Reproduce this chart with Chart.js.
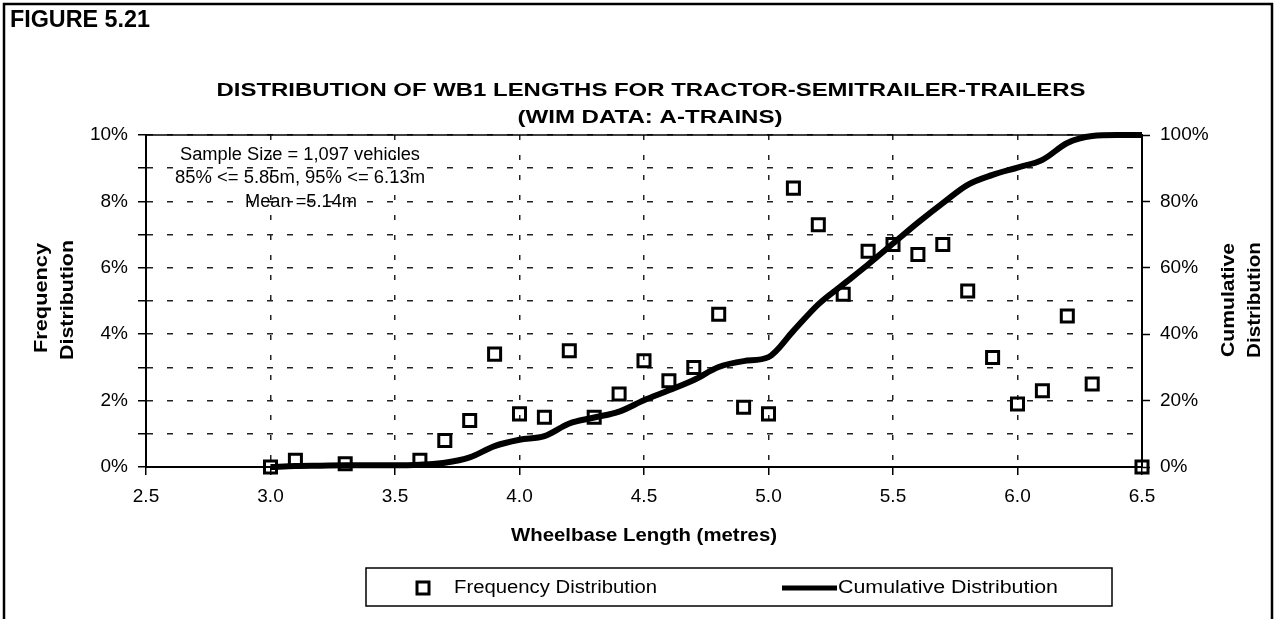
<!DOCTYPE html>
<html>
<head>
<meta charset="utf-8">
<script src="https://cdn.jsdelivr.net/npm/chart.js@4"></script>
<style>
  body { margin: 0; background: #fff; }
  canvas { display: block; }
</style>
</head>
<body>
<canvas id="wb1" width="1275" height="619"></canvas>
<script>
// wheelbase (m) of each frequency point
var freqX = [3.0, 3.1, 3.3, 3.6, 3.7, 3.8, 3.9, 4.0, 4.1, 4.2, 4.3, 4.4, 4.5, 4.6, 4.7, 4.8,
  4.9, 5.0, 5.1, 5.2, 5.3, 5.4, 5.5, 5.6, 5.7, 5.8, 5.9, 6.0, 6.1, 6.2, 6.3, 6.5];
// frequency distribution (%)
var freqPct = [0, 0.2, 0.1, 0.2, 0.8, 1.4, 3.4, 1.6, 1.5, 3.5, 1.5, 2.2, 3.2, 2.6, 3.0, 4.6,
  1.8, 1.6, 8.4, 7.3, 5.2, 6.5, 6.7, 6.4, 6.7, 5.3, 3.3, 1.9, 2.3, 4.55, 2.5, 0];
// cumulative curve, read at every 0.1 m
var cumX = [3.0, 3.1, 3.2, 3.3, 3.4, 3.5, 3.6, 3.7, 3.8, 3.9, 4.0, 4.1, 4.2, 4.3, 4.4, 4.5,
  4.6, 4.7, 4.8, 4.9, 5.0, 5.1, 5.2, 5.3, 5.4, 5.5, 5.6, 5.7, 5.8, 5.9, 6.0, 6.1, 6.2, 6.3, 6.4, 6.5];
var cumPct = [0, 0.3, 0.4, 0.5, 0.5, 0.5, 0.7, 1.3, 2.9, 6.3, 8.2, 9.3, 13.1, 14.9, 16.7, 20.1,
  23.1, 26.2, 30.1, 31.9, 33.1, 41.0, 49.0, 55.0, 61.0, 67.3, 73.6, 79.5, 85.0, 88.0, 90.2, 92.5, 97.6, 99.7, 100, 100];

var leftTicks = [0, 2, 4, 6, 8, 10];
var rightTicks = [0, 20, 40, 60, 80, 100];
var xTicks = [2.5, 3.0, 3.5, 4.0, 4.5, 5.0, 5.5, 6.0, 6.5];

var notes = ["Sample Size = 1,097 vehicles", "85% <= 5.85m, 95% <= 6.13m", "Mean =5.14m"];

var FONT = "'Liberation Sans', Arial, sans-serif";

function pts(xs, ys) {
  return xs.map(function (x, i) { return { x: x, y: ys[i] }; });
}

// draw text centred at x,y, squeezed/stretched to width w
function fitText(ctx, txt, x, y, w, rot) {
  ctx.save();
  ctx.translate(x, y);
  if (rot) ctx.rotate(-Math.PI / 2);
  if (w) ctx.scale(w / ctx.measureText(txt).width, 1);
  ctx.fillText(txt, 0, 0);
  ctx.restore();
}

var decor = {
  id: 'decor',
  afterDraw: function (chart) {
    var ctx = chart.ctx, a = chart.chartArea;
    ctx.save();
    ctx.fillStyle = '#000';
    ctx.strokeStyle = '#000';

    // frame
    ctx.lineWidth = 2.5;
    ctx.beginPath();
    ctx.moveTo(4, 625); ctx.lineTo(4, 4); ctx.lineTo(1272, 4); ctx.lineTo(1272, 625);
    ctx.stroke();

    // top edge of plot
    ctx.lineWidth = 1.5;
    ctx.beginPath();
    ctx.moveTo(a.left, a.top); ctx.lineTo(a.right, a.top);
    ctx.stroke();

    ctx.textAlign = 'left';
    ctx.textBaseline = 'middle';
    ctx.font = 'bold 23px ' + FONT;
    ctx.save(); ctx.translate(10, 21);
    ctx.scale(140 / ctx.measureText('FIGURE 5.21').width, 1);
    ctx.fillText('FIGURE 5.21', 0, 0);
    ctx.restore();

    ctx.textAlign = 'center';
    ctx.font = 'bold 19px ' + FONT;
    fitText(ctx, 'DISTRIBUTION OF WB1 LENGTHS FOR TRACTOR-SEMITRAILER-TRAILERS', 651, 91, 869);
    fitText(ctx, '(WIM DATA: A-TRAINS)', 650, 118, 265);

    ctx.font = 'bold 18px ' + FONT;
    fitText(ctx, 'Frequency', 42, 298, 110, true);
    fitText(ctx, 'Distribution', 68, 300, 120, true);
    fitText(ctx, 'Cumulative', 1229, 300, 114, true);
    fitText(ctx, 'Distribution', 1255, 300, 116, true);
    fitText(ctx, 'Wheelbase Length (metres)', 644, 536, 266);

    ctx.font = '18px ' + FONT;
    fitText(ctx, notes[0], 300, 155, 240);
    fitText(ctx, notes[1], 300, 178, 250);
    fitText(ctx, notes[2], 301, 202, 112);

    // legend box
    ctx.lineWidth = 1.5;
    ctx.strokeRect(366, 568, 746, 38);
    ctx.lineWidth = 3;
    ctx.strokeRect(417, 582, 12, 12);
    ctx.lineWidth = 5;
    ctx.beginPath();
    ctx.moveTo(782, 588); ctx.lineTo(837, 588);
    ctx.stroke();
    ctx.textAlign = 'left';
    ctx.font = '18px ' + FONT;
    ctx.save(); ctx.translate(454, 588);
    ctx.scale(203 / ctx.measureText('Frequency Distribution').width, 1);
    ctx.fillText('Frequency Distribution', 0, 0);
    ctx.restore();
    ctx.save(); ctx.translate(838, 588);
    ctx.scale(220 / ctx.measureText('Cumulative Distribution').width, 1);
    ctx.fillText('Cumulative Distribution', 0, 0);
    ctx.restore();

    ctx.restore();
  }
};

var ctx = document.getElementById('wb1').getContext('2d');
var myChart = new Chart(ctx, {
  type: 'line',
  data: {
    datasets: [{
      label: 'Frequency Distribution',
      data: pts(freqX, freqPct),
      yAxisID: 'y',
      showLine: false,
      clip: false,
      pointStyle: 'rect',
      pointRadius: 8.5,
      pointBorderWidth: 3,
      pointBorderColor: '#000',
      pointBackgroundColor: 'rgba(0,0,0,0)',
      order: 2
    }, {
      label: 'Cumulative Distribution',
      data: pts(cumX, cumPct),
      yAxisID: 'y2',
      borderColor: '#000',
      borderWidth: 6,
      pointRadius: 0,
      cubicInterpolationMode: 'monotone',
      clip: false,
      fill: false,
      order: 1
    }]
  },
  options: {
    responsive: false,
    animation: false,
    events: [],
    layout: { padding: { top: 135, left: 0, right: 0, bottom: 0 } },
    plugins: { legend: { display: false }, tooltip: { enabled: false } },
    scales: {
      x: {
        type: 'linear',
        min: 2.5, max: 6.5,
        afterFit: function (s) { s.height = 152; },
        afterBuildTicks: function (s) { s.ticks = xTicks.map(function (v) { return { value: v }; }); },
        ticks: {
          color: '#000', padding: 10,
          font: { family: FONT, size: 19 },
          callback: function (v) { return v.toFixed(1); }
        },
        grid: { color: '#222', lineWidth: 1.5, tickLength: 8, tickColor: '#000', tickWidth: 1.5 },
        border: { display: true, color: '#000', width: 2, dash: [5, 15] }
      },
      y: {
        position: 'left',
        min: 0, max: 10,
        afterFit: function (s) { s.width = 146; },
        ticks: {
          stepSize: 1, autoSkip: false, color: '#000', padding: 10,
          font: { family: FONT, size: 19 },
          callback: function (v) { return leftTicks.indexOf(v) >= 0 ? v + '%' : ''; }
        },
        grid: { color: '#222', lineWidth: 1.5, tickLength: 8, tickColor: '#000', tickWidth: 1.5 },
        border: { display: true, color: '#000', width: 2, dash: [6, 14] }
      },
      y2: {
        position: 'right',
        min: 0, max: 100,
        afterFit: function (s) { s.width = 133; },
        afterBuildTicks: function (s) { s.ticks = rightTicks.map(function (v) { return { value: v }; }); },
        ticks: {
          color: '#000', padding: 10,
          font: { family: FONT, size: 19 },
          callback: function (v) { return v + '%'; }
        },
        grid: { drawOnChartArea: false, tickLength: 8, tickColor: '#000', tickWidth: 1.5 },
        border: { display: true, color: '#000', width: 2 }
      }
    }
  },
  plugins: [decor]
});
</script>
</body>
</html>
